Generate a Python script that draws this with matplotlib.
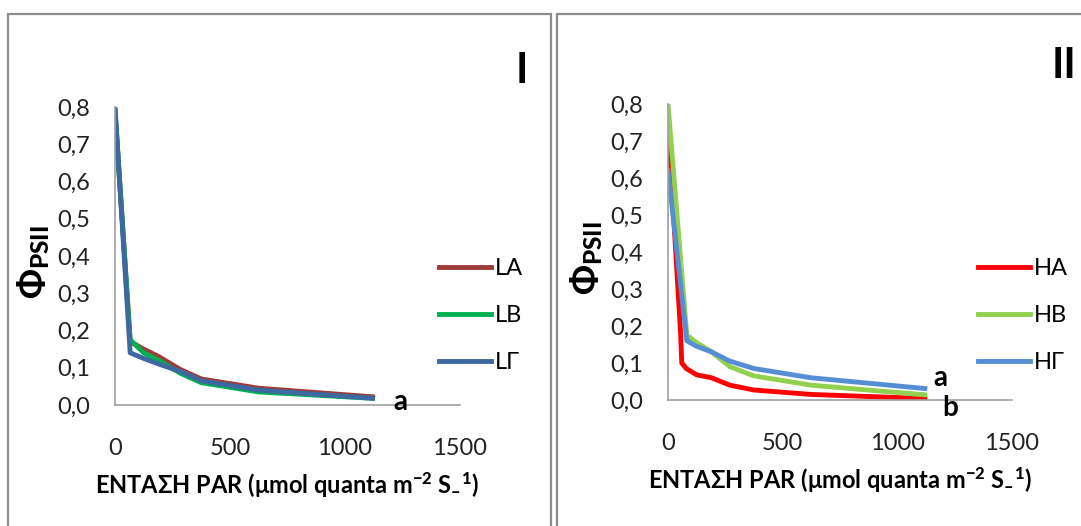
import matplotlib.pyplot as plt
from matplotlib.patches import Rectangle

plt.rcParams['font.family'] = ['Lato', 'DejaVu Sans']
plt.rcParams['mathtext.fontset'] = 'custom'
plt.rcParams['mathtext.rm'] = 'Lato'
plt.rcParams['mathtext.bf'] = 'Lato:black'
plt.rcParams['mathtext.default'] = 'bf'

# panel I (low light plants)
par_l = [0, 66, 125, 190, 285, 375, 625, 1120]
la = [0.79, 0.17, 0.15, 0.13, 0.095, 0.07, 0.045, 0.022]
lb = [0.79, 0.175, 0.14, 0.12, 0.085, 0.06, 0.035, 0.018]
lg = [0.80, 0.14, 0.125, 0.11, 0.09, 0.065, 0.04, 0.018]

# panel II (high light plants)
par_ha = [0, 55, 60, 80, 125, 190, 270, 375, 625, 1120]
ha = [0.75, 0.18, 0.10, 0.085, 0.068, 0.06, 0.04, 0.027, 0.015, 0.004]
par_h = [0, 82, 125, 190, 270, 375, 625, 1120]
hb = [0.80, 0.175, 0.155, 0.13, 0.09, 0.065, 0.04, 0.014]
hg = [0.62, 0.16, 0.145, 0.13, 0.105, 0.085, 0.06, 0.031]

yticks = [0.0, 0.1, 0.2, 0.3, 0.4, 0.5, 0.6, 0.7, 0.8]
xticks = [0, 500, 1000, 1500]
xlabel = r'ΕΝΤΑΣΗ PAR (μmol quanta m$^{-2}$ S$_{–}$$^{1}$)'

W, H = 1081, 526
fig = plt.figure(figsize=(W / 100, H / 100), dpi=100)

# panel frames
for x0, x1 in [(8, 551), (557, 1090)]:
    fig.patches.append(Rectangle((x0 / W, -0.1), (x1 - x0) / W, (H - 14) / H + 0.1,
                                 transform=fig.transFigure, fill=False,
                                 edgecolor='#8c8c8c', linewidth=1.6))


def style(ax, ylab_x, pady):
    ax.set_xlim(0, 1500)
    ax.set_ylim(0, 0.8)
    ax.set_xticks(xticks)
    ax.set_yticks(yticks)
    ax.set_yticklabels([('%.1f' % v).replace('.', ',') for v in yticks])
    for s in ['top', 'right']:
        ax.spines[s].set_visible(False)
    for s in ['left', 'bottom']:
        ax.spines[s].set_color('#a0a0a0')
        ax.spines[s].set_linewidth(1.2)
    ax.tick_params(length=0, labelsize=17, colors='#222222')
    ax.tick_params(axis='y', pad=pady)
    ax.tick_params(axis='x', pad=24)
    ax.set_xlabel(xlabel, fontsize=17, fontweight='bold', labelpad=8)
    ax.text(ylab_x, 0.48, r'$\mathbf{\Phi}_{\mathbf{PSII}}$', transform=ax.transAxes,
            rotation=90, fontsize=25, ha='center', va='center')
    ax.patch.set_alpha(0)


ax1 = fig.add_axes([115 / W, (H - 405) / H, 345 / W, 298 / H])
ax1.plot(par_l, la, color='#9e3b38', lw=3.5, label='LA')
ax1.plot(par_l, lb, color='#00b050', lw=3.5, label='LB')
ax1.plot(par_l, lg, color='#3d68a0', lw=3.5, label='LΓ')
style(ax1, -0.235, 18)
ax1.text(1240, 0.008, 'a', fontsize=20, fontweight='bold', ha='center', va='center', clip_on=False)
ax1.text(1.18, 1.12, 'I', transform=ax1.transAxes, fontsize=30, fontweight='bold',
         ha='center', va='center')
ax1.legend(loc='center left', bbox_to_anchor=(0.939, 0.30), frameon=False, fontsize=17,
           handlelength=2.2, handletextpad=0.15, labelspacing=1.1,
           borderaxespad=0, borderpad=0)

ax2 = fig.add_axes([668 / W, (H - 400) / H, 344 / W, 296 / H])
ax2.plot(par_ha, ha, color='#ff0000', lw=3.5, label='HA')
ax2.plot(par_h, hb, color='#92d050', lw=3.5, label='HB')
ax2.plot(par_h, hg, color='#558ed5', lw=3.5, label='HΓ')
style(ax2, -0.235, 18)
ax2.text(1186, 0.06, 'a', fontsize=20, fontweight='bold', ha='center', va='center', clip_on=False)
ax2.text(1230, -0.022, 'b', fontsize=20, fontweight='bold', ha='center', va='center', clip_on=False)
ax2.text(1.15, 1.13, 'II', transform=ax2.transAxes, fontsize=30, fontweight='bold',
         ha='center', va='center')
ax2.legend(loc='center left', bbox_to_anchor=(0.901, 0.284), frameon=False, fontsize=17,
           handlelength=2.2, handletextpad=0.15, labelspacing=1.1,
           borderaxespad=0, borderpad=0)

fig.savefig('out.png', dpi=100)
